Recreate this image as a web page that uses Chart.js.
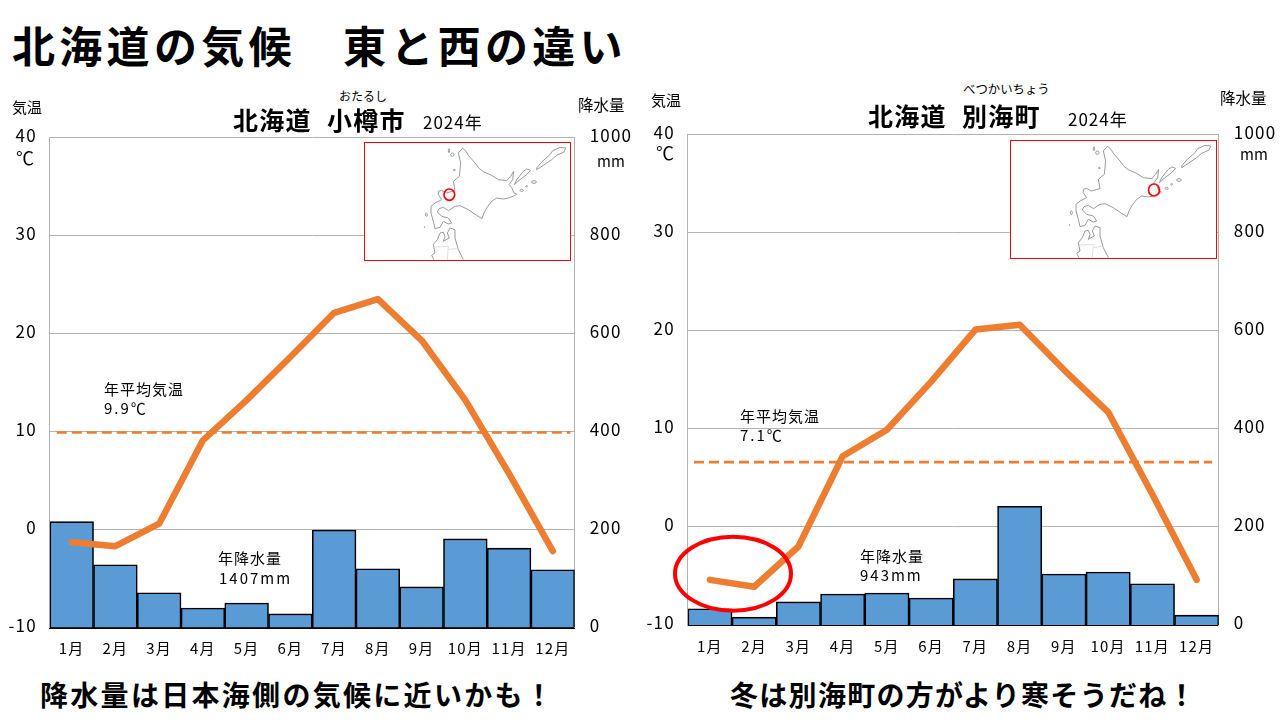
<!DOCTYPE html>
<html lang="ja"><head><meta charset="utf-8">
<script src="https://cdn.jsdelivr.net/npm/chart.js@4"></script>
<style>
html,body{margin:0;padding:0;background:#fff;width:1280px;height:720px;overflow:hidden}
body{position:relative;font-family:"Noto Sans CJK JP","Noto Sans",sans-serif;color:#000}
.w{position:absolute;width:640px;height:550px;top:120px}
.t{position:absolute;white-space:pre;line-height:1;transform:translateY(-50%)}
.b{font-weight:700}
.m{position:absolute;background:#fff;border:1.5px solid #f00;box-sizing:border-box}
svg{position:absolute;overflow:visible}
</style></head><body>
<div class="w" style="left:0"><canvas id="c1"></canvas></div>
<div class="w" style="left:640px"><canvas id="c2"></canvas></div>

<div class="m" style="left:364px;top:142px;width:207px;height:119px"></div>
<div class="m" style="left:1010px;top:140px;width:207px;height:119px"></div>
<svg width="215" height="125" viewBox="0 0 645 375" style="left:360px;top:138px"><use href="#map"/><ellipse cx="268" cy="170" rx="16" ry="17" fill="none" stroke="#f00" stroke-width="5"/></svg>
<svg width="215" height="125" viewBox="0 0 645 375" style="left:1004.5px;top:135.6px"><g id="map" fill="none" stroke="#9a9a9a" stroke-width="3" stroke-linejoin="round">
<path d="M308 30L318 40 325 52 345 75 358 92 372 102 395 112 415 125 440 128 452 115 461 100 458 125 447 140 455 148 462 165 470 168 466 172 445 180 430 183 410 180 395 190 380 210 372 225 366 242 350 232 325 215 300 203 285 205 265 218 250 208 237 212 232 222 245 235 265 240 275 255 265 258 250 250 240 268 225 272 220 250 213 225 213 205 225 195 245 185 235 170 235 160 245 157 258 165 285 158 280 130 298 115 302 75 295 45Z"/>
<path d="M463 140L470 125 490 100 500 93 512 97 500 110 480 125Z"/>
<path d="M530 90L545 72 570 50 578 38 600 28 617 30 612 42 590 52 575 65 550 82 530 95Z"/>
<ellipse cx="485" cy="157" rx="5" ry="3"/><ellipse cx="500" cy="145" rx="3" ry="2"/><ellipse cx="522" cy="132" rx="7" ry="4"/><ellipse cx="277" cy="50" rx="5" ry="5"/><ellipse cx="267" cy="38" rx="2" ry="6"/><ellipse cx="283" cy="96" rx="3" ry="2"/><ellipse cx="199" cy="230" rx="3" ry="5"/><circle cx="193" cy="267" r="1"/>
<path d="M240 285L250 283 255 295 250 310 258 305 268 300 262 285 270 270 285 275 285 300 295 335 310 365M240 285L232 305 220 320 225 345 215 352 222 365"/>
<path stroke="#e0e0e0" d="M225 327L265 325 262 365M265 335L298 330"/>
</g></svg>
<svg width="16" height="16" viewBox="0 0 16 16" style="left:1146px;top:182px"><ellipse cx="8" cy="8" rx="5.5" ry="6" fill="none" stroke="#f00" stroke-width="1.7"/></svg>
<svg width="130" height="100" viewBox="0 0 130 100" style="left:668px;top:530px"><ellipse cx="65" cy="43.7" rx="58" ry="37" fill="none" stroke="#f00" stroke-width="4"/></svg>

<div class="t b" style="left:12px;top:44px;font-size:43px;letter-spacing:4.3px">北海道の気候　東と西の違い</div>

<div class="t" style="left:339px;top:96px;font-size:12px">おたるし</div>
<div class="t b" style="left:233px;top:119px;font-size:25px;letter-spacing:1.2px">北海道</div>
<div class="t b" style="left:327px;top:119px;font-size:25px;letter-spacing:1.2px">小樽市</div>
<div class="t" style="left:423px;top:121px;font-size:17px;letter-spacing:1px">2024年</div>
<div class="t" style="left:12px;top:106px;font-size:15px">気温</div>
<div class="t" style="left:16px;top:157px;font-size:18px">℃</div>
<div class="t" style="left:578px;top:105px;font-size:15.5px">降水量</div>
<div class="t" style="left:597px;top:160px;font-size:15px">mm</div>
<div class="t" style="left:104px;top:388px;font-size:15px;letter-spacing:1px">年平均気温</div>
<div class="t" style="left:104px;top:407px;font-size:15px;letter-spacing:2px">9.9℃</div>
<div class="t" style="left:218px;top:557px;font-size:15px;letter-spacing:1px">年降水量</div>
<div class="t" style="left:219px;top:577px;font-size:15px;letter-spacing:2px">1407mm</div>
<div class="t b" style="left:40px;top:694px;font-size:28px;letter-spacing:2.3px">降水量は日本海側の気候に近いかも！</div>

<div class="t" style="left:963px;top:89px;font-size:12.4px">べつかいちょう</div>
<div class="t b" style="left:868px;top:115px;font-size:25px;letter-spacing:1.2px">北海道</div>
<div class="t b" style="left:962px;top:115px;font-size:25px;letter-spacing:1.2px">別海町</div>
<div class="t" style="left:1068px;top:118px;font-size:17px;letter-spacing:1px">2024年</div>
<div class="t" style="left:651px;top:99px;font-size:15px">気温</div>
<div class="t" style="left:656px;top:152px;font-size:18px">℃</div>
<div class="t" style="left:1220px;top:98px;font-size:15.5px">降水量</div>
<div class="t" style="left:1240px;top:153px;font-size:15px">mm</div>
<div class="t" style="left:740px;top:415px;font-size:15px;letter-spacing:1px">年平均気温</div>
<div class="t" style="left:740px;top:434px;font-size:15px;letter-spacing:2px">7.1℃</div>
<div class="t" style="left:860px;top:555px;font-size:15px;letter-spacing:1px">年降水量</div>
<div class="t" style="left:860px;top:574px;font-size:15px;letter-spacing:2px">943mm</div>
<div class="t b" style="left:730px;top:694px;font-size:28px;letter-spacing:1.3px">冬は別海町の方がより寒そうだね！</div>

<script>
const months = ['1月','2月','3月','4月','5月','6月','7月','8月','9月','10月','11月','12月'];
const otaruTemp = [-1.3,-1.7,0.6,9.1,13.2,17.6,22.1,23.5,19.3,13.2,5.7,-2.2];
const otaruRain = [216,128,71,40,50,28,199,120,83,181,162,118];
const otaruAvg = 9.9;
const betsukaiTemp = [-5.4,-6.1,-2.0,7.2,9.9,14.8,20.1,20.6,16.0,11.7,3.3,-5.4];
const betsukaiRain = [33,16,47,63,65,55,94,242,104,108,84,20];
const betsukaiAvgDrawn = 6.6;
const ORANGE = '#ED7D31', BLUE = '#5B9BD5', GRID = '#b2b2b2';
const FONT = '"Noto Sans CJK JP"';

const spacing = { id:'spacing', beforeDraw(c){ c.ctx.letterSpacing='1.2px'; } };

function make(id, temp, rain, avg, avgFrom, avgTo, box){
  new Chart(document.getElementById(id), {
    data:{
      labels:months,
      datasets:[
        {type:'line',data:temp,xAxisID:'x',yAxisID:'y',order:1,borderColor:ORANGE,borderWidth:6.5,
         borderCapStyle:'round',borderJoinStyle:'round',pointRadius:0,tension:0,fill:false},
        {type:'scatter',showLine:true,data:[{x:avgFrom,y:avg},{x:avgTo,y:avg}],xAxisID:'xAvg',yAxisID:'y',order:0,
         borderColor:ORANGE,borderWidth:2.6,borderDash:[10,5],pointRadius:0,fill:false},
        {type:'bar',data:rain,xAxisID:'x',yAxisID:'y1',order:2,backgroundColor:BLUE,borderColor:'#000',borderWidth:1.6,
         barPercentage:1,categoryPercentage:1,grouped:false}
      ]
    },
    plugins:[spacing],
    options:{
      responsive:true,maintainAspectRatio:false,animation:false,
      layout:{padding:{top:box.top,left:0,right:0,bottom:0}},
      plugins:{legend:{display:false},title:{display:false},tooltip:{enabled:false}},
      scales:{
        x:{type:'category',position:'bottom',grid:{display:false},border:{color:'#000',width:2},
           ticks:{color:'#000',font:{family:FONT,size:15},padding:4,maxRotation:0,autoSkip:false},
           afterFit(s){s.height=box.bottom;s.paddingLeft=0;s.paddingRight=0;}},
        xAvg:{type:'linear',display:false,min:0,max:12},
        y:{type:'linear',position:'left',min:-10,max:40,
           grid:{color:GRID,lineWidth:1,drawTicks:false},border:{color:GRID,width:1},
           ticks:{stepSize:10,color:'#000',font:{family:FONT,size:17},padding:13,labelOffset:-2},
           afterFit(s){s.width=box.left;s.paddingTop=0;s.paddingBottom=0;}},
        y1:{type:'linear',position:'right',min:0,max:1000,
           grid:{display:false,drawTicks:false},border:{color:GRID,width:1},
           ticks:{stepSize:200,color:'#000',font:{family:FONT,size:17},padding:15,labelOffset:-2,callback:v=>String(v)},
           afterFit(s){s.width=box.right;s.paddingTop=0;s.paddingBottom=0;}}
      }
    }
  });
}
make('c1',otaruTemp,otaruRain,otaruAvg,0.16,11.9,{top:17.3,left:49.8,right:65.3,bottom:42.4});
make('c2',betsukaiTemp,betsukaiRain,betsukaiAvgDrawn,0.14,11.85,{top:14.3,left:47.8,right:61.2,bottom:45});
</script>
</body></html>
